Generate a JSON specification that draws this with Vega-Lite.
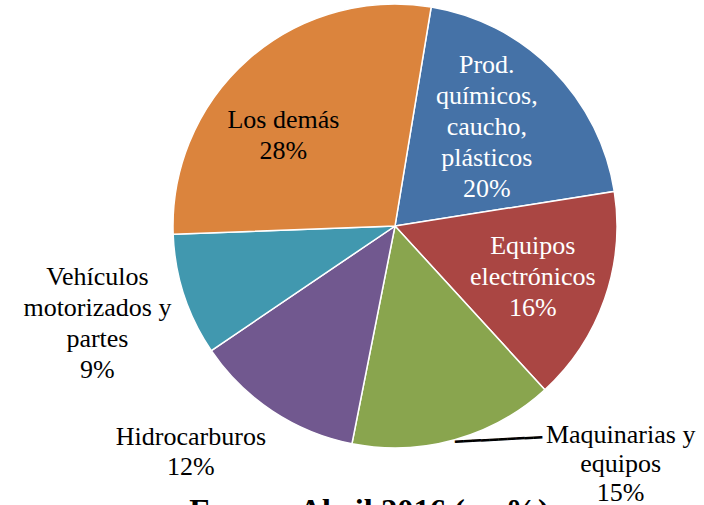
{
  "$schema": "https://vega.github.io/schema/vega-lite/v6.json",
  "width": 618,
  "height": 452,
  "autosize": {"type": "none"},
  "padding": {"left": 86, "top": 0, "right": 0, "bottom": 53},
  "background": "white",
  "config": {"view": {"stroke": null}},
  "title": {
    "text": "Enero - Abril 2016 (en %)",
    "orient": "bottom",
    "offset": -11,
    "frame": "group",
    "dx": -26,
    "font": "Liberation Serif",
    "fontSize": 32.5,
    "fontWeight": "bold",
    "color": "black",
    "anchor": "middle",
    "baseline": "top"
  },
  "data": {
    "values": [
      {"ord": 1, "cat": "Prod. químicos, caucho, plásticos", "value": 19.9, "label": ["Prod.", "químicos,", "caucho,", "plásticos", "20%"]},
      {"ord": 2, "cat": "Equipos electrónicos", "value": 15.7, "label": ["Equipos", "electrónicos", "16%"]},
      {"ord": 3, "cat": "Maquinarias y equipos", "value": 14.9, "label": ["Maquinarias y", "equipos", "15%"]},
      {"ord": 4, "cat": "Hidrocarburos", "value": 12.4, "label": ["Hidrocarburos", "12%"]},
      {"ord": 5, "cat": "Vehículos motorizados y partes", "value": 8.9, "label": ["Vehículos", "motorizados y", "partes", "9%"]},
      {"ord": 6, "cat": "Los demás", "value": 28.2, "label": ["Los demás", "28%"]}
    ]
  },
  "encoding": {
    "theta": {"field": "value", "type": "quantitative", "stack": true, "scale": {"range": [0.164, 6.447]}},
    "order": {"field": "ord", "type": "quantitative"}
  },
  "layer": [
    {
      "mark": {"type": "arc", "outerRadius": 222, "stroke": "white", "strokeWidth": 1.5},
      "encoding": {
        "color": {
          "field": "cat",
          "type": "nominal",
          "legend": null,
          "scale": {
            "domain": ["Prod. químicos, caucho, plásticos", "Equipos electrónicos", "Maquinarias y equipos", "Hidrocarburos", "Vehículos motorizados y partes", "Los demás"],
            "range": ["#4572A7", "#AA4643", "#89A54E", "#71588F", "#4198AF", "#DB843D"]
          }
        }
      }
    },
    {
      "mark": {"type": "text", "radius": 135, "dx": -4, "dy": -66, "font": "Liberation Serif", "fontSize": 26, "lineHeight": 31, "color": "white", "align": "center", "baseline": "middle"},
      "encoding": {"text": {"condition": {"test": "datum.ord === 1", "field": "label", "type": "nominal"}, "value": ""}}
    },
    {
      "mark": {"type": "text", "radius": 146, "dx": 0, "dy": -28, "font": "Liberation Serif", "fontSize": 26, "lineHeight": 31, "color": "white", "align": "center", "baseline": "middle"},
      "encoding": {"text": {"condition": {"test": "datum.ord === 2", "field": "label", "type": "nominal"}, "value": ""}}
    },
    {
      "mark": {"type": "text", "radius": 240, "dx": 161, "dy": -22, "font": "Liberation Serif", "fontSize": 26, "lineHeight": 29, "color": "black", "align": "center", "baseline": "middle"},
      "encoding": {"text": {"condition": {"test": "datum.ord === 3", "field": "label", "type": "nominal"}, "value": ""}}
    },
    {
      "mark": {"type": "text", "radius": 222, "dx": 0, "dy": 3, "angle": -3, "font": "DejaVu Sans Mono", "fontSize": 14.5, "color": "black", "align": "left", "baseline": "middle"},
      "encoding": {"text": {"condition": {"test": "datum.ord === 3", "value": "━━━━━━━━━━"}, "value": ""}}
    },
    {
      "mark": {"type": "text", "radius": 270, "dx": -55, "dy": -14, "font": "Liberation Serif", "fontSize": 26, "lineHeight": 30, "color": "black", "align": "center", "baseline": "middle"},
      "encoding": {"text": {"condition": {"test": "datum.ord === 4", "field": "label", "type": "nominal"}, "value": ""}}
    },
    {
      "mark": {"type": "text", "radius": 290, "dx": -22, "dy": -39, "font": "Liberation Serif", "fontSize": 26, "lineHeight": 31, "color": "black", "align": "center", "baseline": "middle"},
      "encoding": {"text": {"condition": {"test": "datum.ord === 5", "field": "label", "type": "nominal"}, "value": ""}}
    },
    {
      "mark": {"type": "text", "radius": 125, "dx": -29, "dy": -12, "font": "Liberation Serif", "fontSize": 26, "lineHeight": 31, "color": "black", "align": "center", "baseline": "middle"},
      "encoding": {"text": {"condition": {"test": "datum.ord === 6", "field": "label", "type": "nominal"}, "value": ""}}
    }
  ]
}
